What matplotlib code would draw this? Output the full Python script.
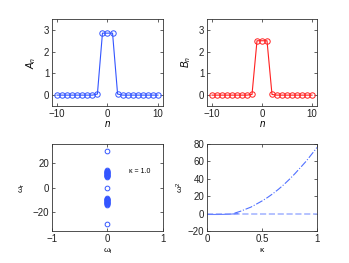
import matplotlib
matplotlib.use("Agg")
import matplotlib.pyplot as plt
import numpy as np

plt.rcParams['font.family'] = ['Liberation Sans', 'DejaVu Sans']
plt.rcParams['mathtext.fontset'] = 'custom'
plt.rcParams['mathtext.it'] = 'Liberation Sans:italic'
plt.rcParams['mathtext.rm'] = 'Liberation Sans'

# ---- data ----
n = [-10, -9, -8, -7, -6, -5, -4, -3, -2, -1, 0, 1, 2, 3, 4, 5, 6, 7, 8, 9, 10]
A_n = [0, 0, 0, 0, 0, 0, 0, 0, 0.05, 2.85, 2.85, 2.85, 0.05, 0, 0, 0, 0, 0, 0, 0, 0]
B_n = [0, 0, 0, 0, 0, 0, 0, 0, 0.03, 2.5, 2.5, 2.5, 0.03, 0, 0, 0, 0, 0, 0, 0, 0]

omega_r = [29.6,
           13.7, 13.4, 13.1, 12.8, 12.5, 12.2, 11.9, 11.6, 11.3, 11.0, 10.7, 10.4,
           10.1, 9.8, 9.5, 9.2, 8.9, 8.6,
           0.0,
           -8.6, -8.9, -9.2, -9.5, -9.8, -10.1, -10.4, -10.7, -11.0, -11.3, -11.6,
           -11.9, -12.2, -12.5, -12.8, -13.1, -13.4, -13.7,
           -29.6]
omega_i = [0.0] * len(omega_r)

kappa_up = [0.25, 0.30, 0.35, 0.40, 0.45, 0.50, 0.55, 0.60, 0.65, 0.70, 0.75, 0.80, 0.85, 0.90, 0.95, 1.00]
omega2_up = [0.5, 2.5, 5.0, 7.5, 11.0, 14.5, 18.5, 23.0, 28.0, 33.5, 39.5, 46.0, 53.0, 60.0, 68.0, 76.0]
kappa_neg = [0.0, 0.05, 0.10, 0.15, 0.20, 0.25, 0.28]
omega2_neg = [-1.0, -1.0, -1.0, -0.9, -0.7, -0.3, 0.0]
kappa_zero = [0.0, 1.0]
omega2_zero = [0.0, 0.0]

blue = '#3355ff'
red = '#ff2020'
W, H = 349, 263

fig = plt.figure(figsize=(W / 100, H / 100), dpi=100)

def ax_at(l, t, r, b):
    return fig.add_axes([l / W, 1 - b / H, (r - l) / W, (b - t) / H])

def style(ax):
    ax.tick_params(direction='in', length=2, width=0.5, labelsize=7, pad=2,
                   top=True, right=True, colors='#222222')
    for s in ax.spines.values():
        s.set_linewidth(0.6)
        s.set_color('#333333')

ax1 = ax_at(52, 19, 163, 106)
ax1.plot(n, A_n, '-o', color=blue, lw=0.8, ms=3.9, mfc='none', mew=0.7)
ax1.set_xlim(-11, 11); ax1.set_ylim(-0.5, 3.5)
ax1.set_xticks([-10, 0, 10]); ax1.set_yticks([0, 1, 2, 3])
ax1.set_xlabel('$n$', fontsize=7, labelpad=0)
ax1.set_ylabel('$A_n$', fontsize=7, labelpad=4)
style(ax1)

ax2 = ax_at(207, 19, 317, 106)
ax2.plot(n, B_n, '-o', color=red, lw=0.8, ms=3.9, mfc='none', mew=0.7)
ax2.set_xlim(-11, 11); ax2.set_ylim(-0.5, 3.5)
ax2.set_xticks([-10, 0, 10]); ax2.set_yticks([0, 1, 2, 3])
ax2.set_xlabel('$n$', fontsize=7, labelpad=0)
ax2.set_ylabel('$B_n$', fontsize=7, labelpad=4)
style(ax2)

ax3 = ax_at(52, 144, 163, 231)
ax3.plot(omega_i, omega_r, 'o', color=blue, ms=3.4, mfc='none', mew=0.7)
ax3.set_xlim(-1, 1); ax3.set_ylim(-35, 35)
ax3.set_xticks([-1, 0, 1]); ax3.set_yticks([-20, 0, 20])
ax3.set_xlabel(r'$\mathregular{\omega_i}$', fontsize=6, labelpad=2)
ax3.set_ylabel(r'$\mathregular{\omega_r}$', fontsize=6, labelpad=4)
ax3.text(0.38, 12.6, 'κ = 1.0', fontsize=5, va='center')
style(ax3)

ax4 = ax_at(207, 144, 317, 231)
ax4.plot(kappa_zero, omega2_zero, '--', color='#a8b8ff', lw=1.2)
ax4.plot(kappa_neg, omega2_neg, '-', color='#6680ff', lw=0.8)
ax4.plot(kappa_up, omega2_up, '-.', color='#5070ff', lw=0.8)
ax4.set_xlim(0, 1); ax4.set_ylim(-20, 80)
ax4.set_xticks([0, 0.5, 1]); ax4.set_yticks([-20, 0, 20, 40, 60, 80])
ax4.set_xticklabels(['0', '0.5', '1'])
ax4.set_xlabel('κ', fontsize=6, labelpad=2)
ax4.set_ylabel(r'$\mathregular{\omega^2}$', fontsize=6, labelpad=1)
style(ax4)

fig.savefig('out.png', dpi=100)
